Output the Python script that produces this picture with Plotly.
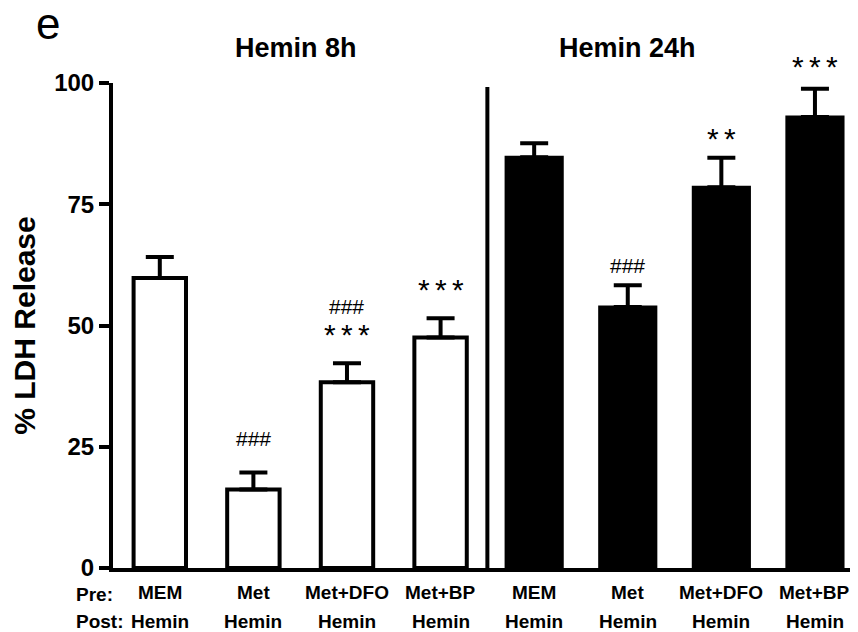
import plotly.graph_objects as go

# ---- data ----
pre_labels = ["MEM", "Met", "Met+DFO", "Met+BP", "MEM", "Met", "Met+DFO", "Met+BP"]
post_labels = ["Hemin"] * 8
group_titles = ["Hemin 8h", "Hemin 24h"]
ldh_8h = [59.8, 16.2, 38.3, 47.5]
sem_8h = [4.3, 3.5, 3.9, 4.0]
ldh_24h = [84.7, 53.8, 78.5, 93.0]
sem_24h = [2.9, 4.5, 6.1, 5.8]
hash_marks = ["", "###", "###", "", "", "###", "", ""]
star_marks = ["", "", "***", "***", "", "", "**", "***"]

FONT = "Arial, Liberation Sans, sans-serif"
x8 = list(range(4))
x24 = list(range(4, 8))

fig = go.Figure()
fig.add_trace(go.Bar(
    x=x8, y=ldh_8h, width=0.56,
    marker=dict(color="white", line=dict(color="black", width=4)),
    error_y=dict(type="data", symmetric=False, array=sem_8h, arrayminus=[0] * 4,
                 color="black", thickness=4, width=14),
    cliponaxis=False, showlegend=False,
))
fig.add_trace(go.Bar(
    x=x24, y=ldh_24h, width=0.6,
    marker=dict(color="black", line=dict(color="black", width=3)),
    error_y=dict(type="data", symmetric=False, array=sem_24h, arrayminus=[0] * 4,
                 color="black", thickness=4, width=14),
    cliponaxis=False, showlegend=False,
))

# divider between groups
fig.add_shape(type="line", x0=3.5, x1=3.5, y0=0, y1=99.2, xref="x", yref="y",
              line=dict(color="black", width=4))

tops = [v + e for v, e in zip(ldh_8h + ldh_24h, sem_8h + sem_24h)]
star_gap = [0, 0, 29, 29, 0, 0, 19, 22]
hash_gap = [0, 34, 57, 0, 0, 20, 0, 0]
gap_span = "<span style='font-size:19px'> </span>"
for i in range(8):
    if star_marks[i]:
        fig.add_annotation(x=i, y=tops[i], text=gap_span.join(star_marks[i]), showarrow=False,
                           yshift=star_gap[i], font=dict(family=FONT, size=30, color="black"))
    if hash_marks[i]:
        fig.add_annotation(x=i, y=tops[i], text=hash_marks[i], showarrow=False,
                           yshift=hash_gap[i], font=dict(family=FONT, size=21, color="black"))
    fig.add_annotation(x=i, y=0, yref="y", text="<b>%s</b>" % pre_labels[i], showarrow=False,
                       yshift=-24, font=dict(family=FONT, size=19, color="black"))
    fig.add_annotation(x=i, y=0, yref="y", text="<b>%s</b>" % post_labels[i], showarrow=False,
                       yshift=-53, font=dict(family=FONT, size=19, color="black"))

fig.add_annotation(x=-0.5, y=0, text="<b>Pre:</b>", showarrow=False, xanchor="left",
                   xshift=-39, yshift=-26, font=dict(family=FONT, size=19, color="black"))
fig.add_annotation(x=-0.5, y=0, text="<b>Post:</b>", showarrow=False, xanchor="left",
                   xshift=-39, yshift=-53, font=dict(family=FONT, size=19, color="black"))

fig.add_annotation(x=1.45, y=100, text="<b>%s</b>" % group_titles[0], showarrow=False,
                   yshift=35, font=dict(family=FONT, size=27, color="black"))
fig.add_annotation(x=5.0, y=100, text="<b>%s</b>" % group_titles[1], showarrow=False,
                   yshift=35, font=dict(family=FONT, size=27, color="black"))
fig.add_annotation(x=-0.0872, y=1.1237, xref="paper", yref="paper", text="e", showarrow=False,
                   xanchor="center", yanchor="middle",
                   font=dict(family=FONT, size=44, color="black"))

fig.update_xaxes(range=[-0.5, 7.46], showline=True, linewidth=4, linecolor="black",
                 showticklabels=False, ticks="", showgrid=False, zeroline=False)
fig.update_yaxes(range=[0, 100], tickvals=[0, 25, 50, 75, 100], showline=True, linewidth=4,
                 linecolor="black", ticks="outside", ticklen=10, tickwidth=4, tickcolor="black",
                 showgrid=False, zeroline=False,
                 tickfont=dict(family=FONT, size=24, color="black", weight="bold"),
                 title=dict(text="<b>% LDH Release</b>", standoff=20,
                            font=dict(family=FONT, size=30, color="black")))

# body of the page has an 8px margin: size the figure so it ends at the window edge
fig.update_layout(width=850, height=624, margin=dict(l=105, r=0, t=75, b=64),
                  plot_bgcolor="white", paper_bgcolor="white", bargap=0.4)

fig.write_html("out.html")
